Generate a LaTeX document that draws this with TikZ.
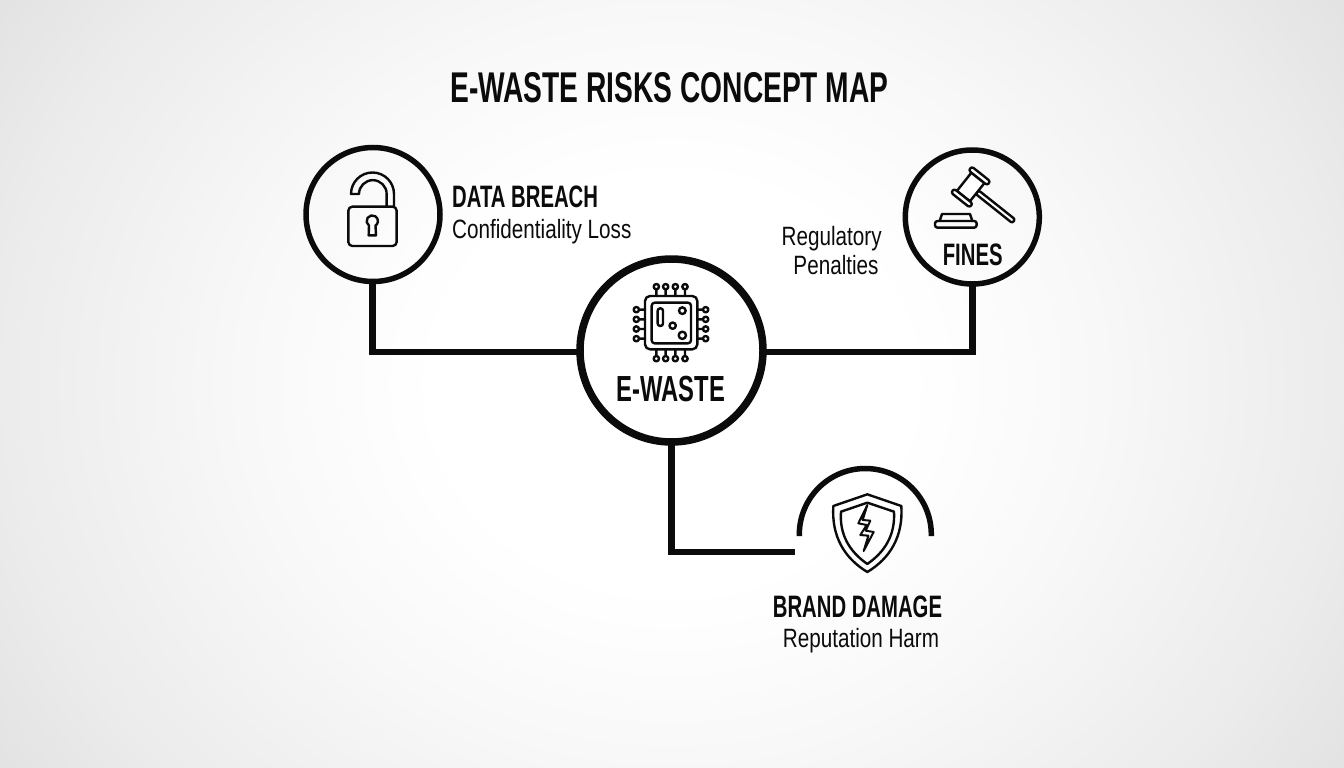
\documentclass[tikz,border=0pt]{standalone}
\usepackage{fontspec}
\setmainfont[FakeStretch=0.78]{Liberation Sans}
\newfontfamily\headfont[FakeStretch=0.655]{Liberation Sans}
\definecolor{ink}{HTML}{0B0B0B}
\definecolor{bgbase}{RGB}{226,226,226}
\tikzset{
  ring/.style={circle,draw=ink,outer sep=0pt,inner sep=0pt,fill=none},
  link/.style={draw=ink,line width=6.5pt,line cap=butt,line join=miter},
  icon/.style={draw=ink,line width=2.4pt,line join=round,line cap=round},
  title/.style={font=\headfont\bfseries\fontsize{43}{45}\selectfont,text=ink,inner sep=0pt,anchor=base},
  head/.style={font=\headfont\bfseries\fontsize{31}{33}\selectfont,text=ink,inner sep=0pt},
  sub/.style={font=\fontsize{26.5}{30}\selectfont,text=ink,inner sep=0pt},
}
\begin{document}
\begin{tikzpicture}[x=1pt,y=-1pt]
\useasboundingbox (0,0) rectangle (1344,768);
% paper: soft vignette built from nested ellipses, one grey level apart
\begin{scope}
\clip (0,0) rectangle (1344,768);
\fill[bgbase] (0,0) rectangle (1344,768);
\foreach \g/\r in {227/804,228/789,229/775,230/760,231/745,232/731,233/716,234/701,235/687,236/672,237/653,238/633,239/614,240/595,241/575,242/556,243/537,244/517,245/498,246/479,247/459,248/440,249/417,250/390,251/363,252/336,253/309,254/282,255/250}{
  \definecolor{lvl}{RGB}{\g,\g,\g}
  \fill[lvl] (672,384) ellipse[x radius=\r,y radius=\r/1.15];
}
\end{scope}
% title
\node[title] (maintitle) at (669.5,102.5) {E-WASTE RISKS CONCEPT MAP};
% rings
\node[ring,line width=5.5pt,minimum size=134pt] (breach) at (373,214.5) {};
\node[ring,line width=7.5pt,minimum size=183pt] (ewaste) at (671.5,350.5) {};
\node[ring,line width=5.5pt,minimum size=134pt] (fines) at (972.3,217) {};
\coordinate (brandend) at (795,552);
% connectors
\draw[link] (breach.south -| 372.3,0) |- (ewaste.west |- 0,352);
\draw[link] (fines.south) |- (ewaste.east |- 0,352);
\draw[link] (ewaste.south) |- (brandend);
% brand arc
\draw[ink,line width=5.5pt] (799.3,536) -- (799.3,534.5) arc[start angle=180,end angle=360,radius=66] -- (931.3,536);
% lock
\begin{scope}[shift={(290,130)},scale=1/3]
\draw[icon,rounded corners=4pt] (175,230) rectangle (320,348);
\draw[icon] (312,230) -- (312,192) arc[start angle=0,end angle=-180,radius=64.5] -- (207,192)
   arc[start angle=180,end angle=360,radius=41.5] -- (290,230);
\draw[icon] (237,287) arc[start angle=125,end angle=415,radius=17] -- (258,316) -- (236,316) -- cycle;
\end{scope}
% chip
\begin{scope}[shift={(560,240)},scale=1/3]
\draw[icon,rounded corners=5pt] (255,168) rectangle (412,328);
\draw[icon,rounded corners=3pt] (275,188) rectangle (393,310);
\foreach \p in {289,317,346,375}{
  \draw[icon] (\p,168) -- (\p,148) (\p,140) circle[radius=8];
  \draw[icon] (\p,328) -- (\p,348) (\p,356) circle[radius=8];
}
\foreach \p in {209,238,267,296}{
  \draw[icon] (255,\p) -- (237,\p) (229,\p) circle[radius=8];
  \draw[icon] (412,\p) -- (429,\p) (437,\p) circle[radius=8];
}
\draw[icon,rounded corners=2.5pt] (293,205) rectangle (309,258);
\draw[icon] (367,212) circle[radius=10] (338,257) circle[radius=9.5] (367,286) circle[radius=11];
\end{scope}
% gavel
\begin{scope}[shift={(760,140)},scale=1/3]
\draw[icon,rounded corners=2.5pt] (525,243) rectangle (650,263);
\draw[icon] (539,243) -- (546,222) -- (630,222) -- (637,243);
\begin{scope}[shift={(632,141)},rotate=-38.5]
\draw[icon,rounded corners=2pt,fill=white] (25,-7) rectangle (165,7);
\draw[icon,fill=white] (-25,-35) rectangle (25,35);
\draw[icon,rounded corners=2.5pt,fill=white] (-36,-50) rectangle (36,-35);
\draw[icon,rounded corners=2.5pt,fill=white] (-36,35) rectangle (36,50);
\end{scope}
\end{scope}
% shield
\begin{scope}[shift={(660,450)},scale=1/3]
\draw[icon] (622,133) -- (724,168) .. controls (730,260) and (690,325) .. (622,366)
   .. controls (554,325) and (514,260) .. (520,168) -- cycle;
\draw[icon] (622,158) -- (702,185) .. controls (706,255) and (675,305) .. (622,342)
   .. controls (569,305) and (538,255) .. (543,185) -- cycle;
\end{scope}
\begin{scope}[shift={(825,490)},scale=1/3]
\draw[icon,line width=2pt] (127,45) -- (100,100) -- (125,105) -- (106,135) -- (130,137) -- (116,183) -- (146,126) -- (122,122) -- (136,92) -- (113,90) -- cycle;
\end{scope}
% labels
\node[head,anchor=base west] (breachhead) at (452,207) {DATA BREACH};
\node[sub,anchor=base west] (breachsub) at (452,238) {Confidentiality Loss};
\node[sub,anchor=base] (regone) at (831.7,245) {Regulatory};
\node[sub,anchor=base] (regtwo) at (836,274.3) {Penalties};
\node[head,anchor=base] (finestext) at (972.7,265) {FINES};
\node[font=\headfont\bfseries\fontsize{36.3}{38}\selectfont,text=ink,inner sep=0pt,anchor=base] (ewastetext) at (671,401) {E-WASTE};
\node[head,anchor=base] (brandhead) at (857.5,617.7) {BRAND DAMAGE};
\node[sub,anchor=base] (brandsub) at (861,647.7) {Reputation Harm};
\end{tikzpicture}
\end{document}
